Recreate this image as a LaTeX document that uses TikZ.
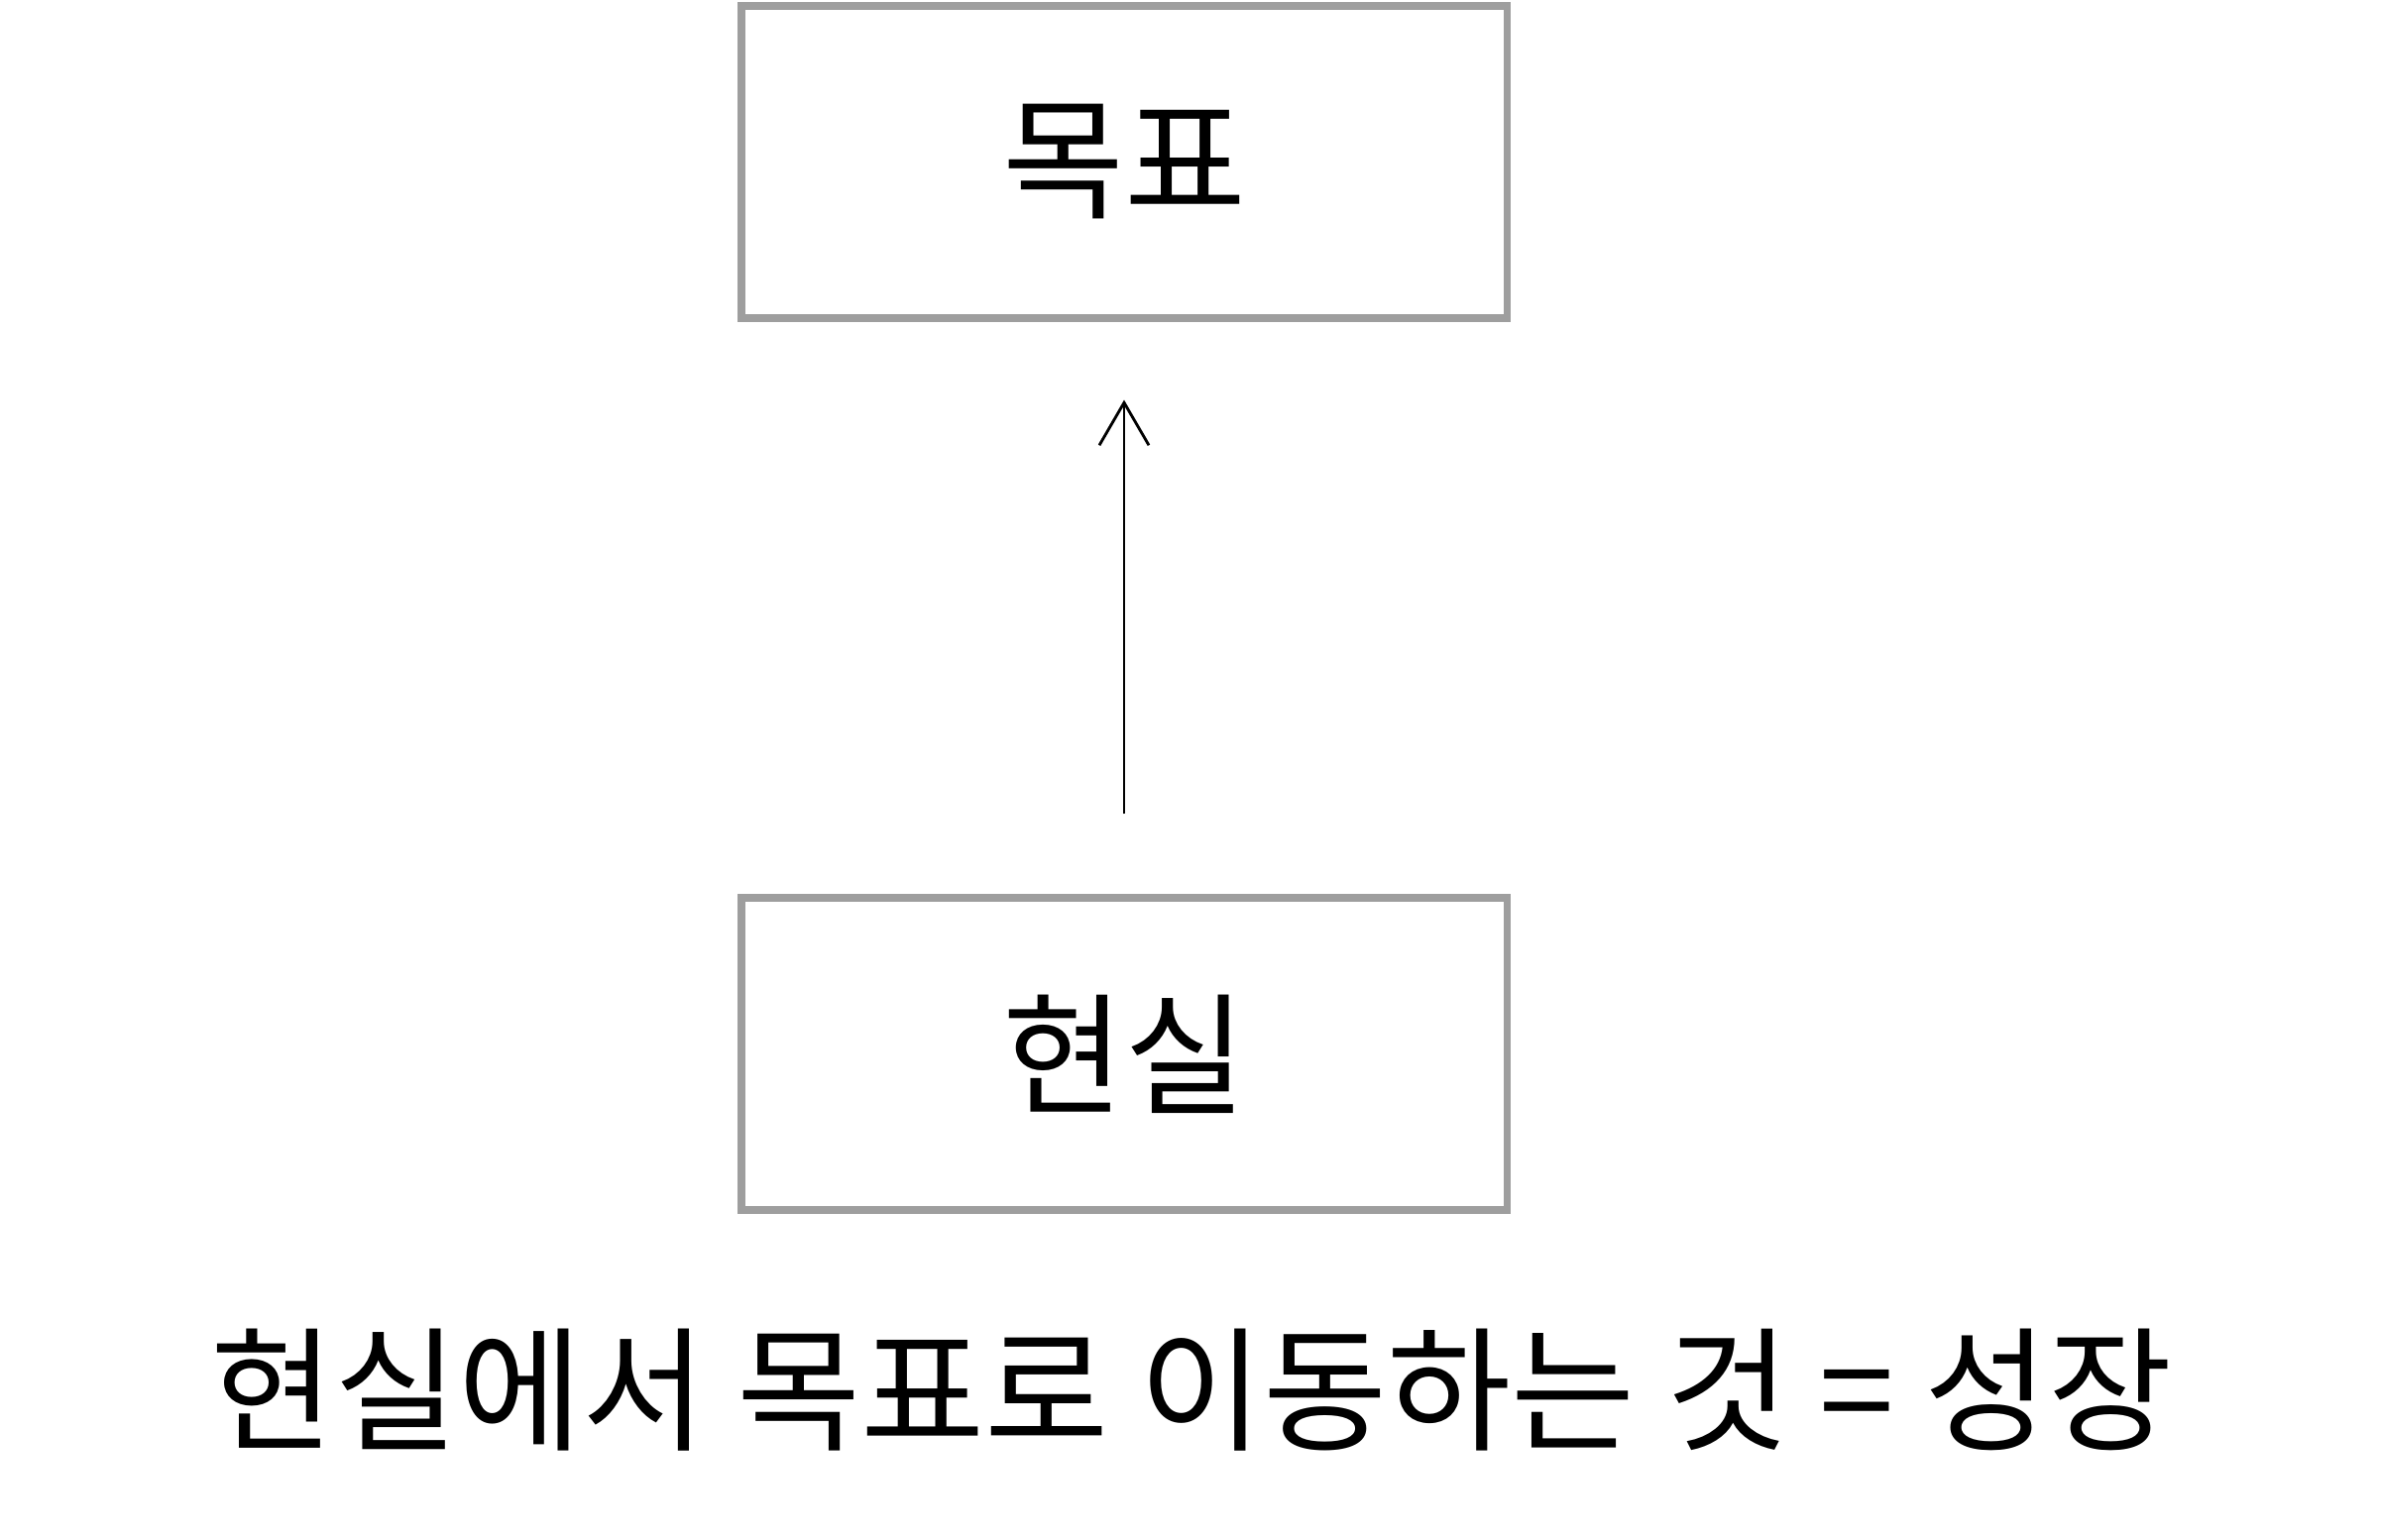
\documentclass[tikz,border=0pt]{standalone}
\usepackage{fontspec}
\setmainfont{Noto Sans CJK KR}
\usepackage{tikz}
\usetikzlibrary{arrows.meta,positioning}
\tikzset{%
	stage/.style = {draw=black!38, line width=2pt, rectangle, minimum width=7.72cm, minimum height=3.15cm, text centered, font=\fontsize{38}{42}\selectfont},
	arrow/.style = {line width=0.8pt, -{Straight Barb[length=0.43cm,width=0.5cm]}, shorten <=0.81cm, shorten >=0.79cm},
}
\begin{document}
\begin{tikzpicture}
	\useasboundingbox (0,0) rectangle (24.02,-15.54);
	\node[stage] (goal) at (11.34,-1.635) {목표};
	\node[stage] (real) at (11.34,-10.635) {현실};
	\draw[arrow] (real) -- (goal);
	\node[font=\fontsize{38.7}{42}\selectfont] (growth) at (12.02,-14.03) {현실에서 목표로 이동하는 것 = 성장};
\end{tikzpicture}
\end{document}
